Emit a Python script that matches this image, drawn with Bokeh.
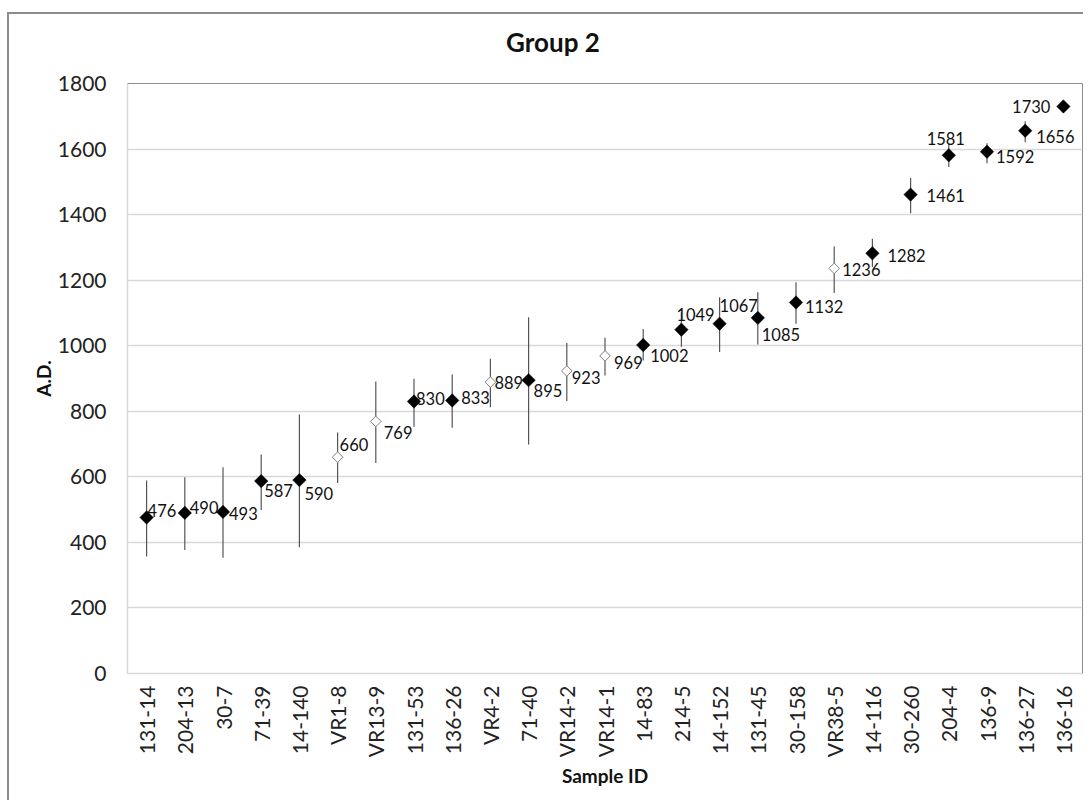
import math
from bokeh.plotting import figure
from bokeh.layouts import column
from bokeh.models import ColumnDataSource, FixedTicker, Range1d, FactorRange, Div
from bokeh.core.properties import value
from bokeh.embed import file_html
from bokeh.resources import INLINE

# ---- data ----
samples = ["131-14", "204-13", "30-7", "71-39", "14-140", "VR1-8", "VR13-9", "131-53",
           "136-26", "VR4-2", "71-40", "VR14-2", "VR14-1", "14-83", "214-5", "14-152",
           "131-45", "30-158", "VR38-5", "14-116", "30-260", "204-4", "136-9", "136-27", "136-16"]
years = [476, 490, 493, 587, 590, 660, 769, 830, 833, 889, 895, 923, 969, 1002, 1049, 1067,
         1085, 1132, 1236, 1282, 1461, 1581, 1592, 1656, 1730]
err_low = [357, 377, 353, 499, 385, 581, 642, 753, 750, 812, 699, 831, 909, 955, 997, 981,
           1004, 1067, 1161, 1240, 1404, 1545, 1557, 1621, float("nan")]
err_high = [589, 599, 629, 668, 790, 735, 891, 899, 912, 960, 1087, 1008, 1024, 1051, 1101, 1148,
            1163, 1194, 1303, 1326, 1512, 1617, 1618, 1685, float("nan")]
hollow = [False, False, False, False, False, True, True, False, False, True, False, True, True,
          False, False, False, False, False, True, False, False, False, False, False, False]
y_ticks = [0, 200, 400, 600, 800, 1000, 1200, 1400, 1600, 1800]
title_text = "Group 2"

# ---- label placement (style, screen px) ----
lab_dx = [1, 5, 6, 3, 5, 2, 8, 2, 9, 4, 5, 5, 9, 7, -5, 0, 4, 9, 8, 15, 16, -3, 9, 11, -13]
lab_dy = [-7, -5, 2, 9, 13, -13, 11, -3, -3, 0, 10, 7, 7, 10, -15, -18, 17, 4, 1, 2, 1, -17, 5, 6, 0]
lab_align = ["left"] * 21 + ["center", "left", "left", "right"]

FONT = "Lato"

title_div = Div(text=title_text, width=300, height=56, margin=(0, 0, 0, 394),
                styles={"text-align": "center", "font-family": FONT, "font-size": "26px",
                        "font-weight": "bold", "line-height": "56px", "color": "#111111"})

p = figure(width=1074, height=730, x_range=FactorRange(*samples, range_padding=0),
           y_range=Range1d(0, 1800), output_backend="svg", toolbar_location=None,
           min_border_left=118, min_border_right=1, min_border_top=13, min_border_bottom=127,
           margin=(0, 0, 0, 0))

p.outline_line_color = "#8c8c8c"
p.outline_line_width = 1
p.xgrid.grid_line_color = None
p.ygrid.grid_line_color = "#d9d9d9"
p.ygrid.grid_line_width = 1.5

p.yaxis.ticker = FixedTicker(ticks=y_ticks)
for ax in (p.xaxis[0], p.yaxis[0]):
    ax.axis_line_color = "#d9d9d9"
    ax.axis_line_width = 1.5
    ax.major_tick_line_color = None
    ax.minor_tick_line_color = None
    ax.major_tick_out = 0
    ax.major_tick_in = 0
    ax.major_label_text_font = FONT
    ax.major_label_text_font_size = "21px"
    ax.major_label_text_color = "#222222"
    ax.axis_label_text_font = FONT
    ax.axis_label_text_font_size = "19px"
    ax.axis_label_text_font_style = "bold"
    ax.axis_label_text_color = "#111111"

p.yaxis.axis_label = "A.D."
p.yaxis.major_label_standoff = 21
p.yaxis.axis_label_standoff = 0
p.xaxis.axis_label = "Sample ID"
p.xaxis.major_label_orientation = math.pi / 2
p.xaxis.major_label_standoff = 12
p.xaxis.axis_label_standoff = 4

src = ColumnDataSource(dict(
    x=samples, y=years, lo=err_low, hi=err_high,
    lab=[str(v) for v in years], dx=lab_dx, dy=lab_dy, align=lab_align,
))
filled = ColumnDataSource(dict(
    x=[s for s, h in zip(samples, hollow) if not h],
    y=[v for v, h in zip(years, hollow) if not h]))
empty = ColumnDataSource(dict(
    x=[s for s, h in zip(samples, hollow) if h],
    y=[v for v, h in zip(years, hollow) if h]))

p.segment(x0="x", y0="lo", x1="x", y1="hi", source=src, line_color="#555555", line_width=1.2)
p.scatter(x="x", y="y", source=filled, marker="square", angle=math.pi / 4, size=9.5,
          fill_color="black", line_color="black", line_width=0.5)
p.scatter(x="x", y="y", source=empty, marker="square", angle=math.pi / 4, size=7.5,
          fill_color="white", line_color="#7f7f7f", line_width=1)
p.text(x="x", y="y", text="lab", source=src, x_offset="dx", y_offset="dy",
       text_align="align", text_baseline="middle", text_font=value(FONT),
       text_font_size="16.5px", text_color="#111111")

layout = column(title_div, p, spacing=0)
layout.styles = {"margin-left": "7px", "margin-top": "12px",
                 "border-left": "2px solid #8c8c8c", "border-top": "2px solid #8c8c8c"}

open("out.html", "w").write(file_html(layout, INLINE))
